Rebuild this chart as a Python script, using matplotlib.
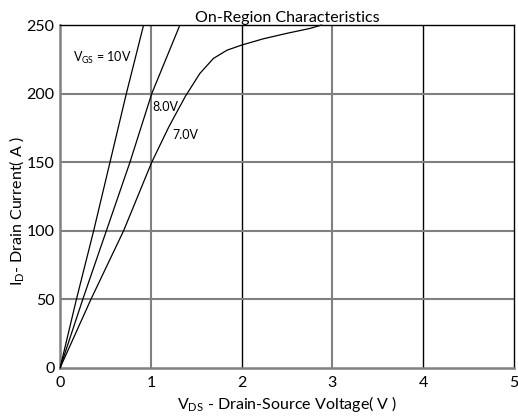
import matplotlib
matplotlib.use("Agg")
import matplotlib.pyplot as plt

plt.rcParams['font.family'] = ['Lato', 'DejaVu Sans']
plt.rcParams['mathtext.fontset'] = 'custom'
plt.rcParams['mathtext.rm'] = 'Lato'
plt.rcParams['mathtext.it'] = 'Lato'

# Data
v10 = [0, 0.18, 0.37, 0.55, 0.73, 0.92]
i10 = [0, 50, 100, 150, 200, 250]
v8 = [0, 0.25, 0.51, 0.77, 1.01, 1.32]
i8 = [0, 50, 100, 150, 200, 250]
v7 = [0, 0.34, 0.70, 1.01, 1.2, 1.38, 1.54, 1.69, 1.84, 2.0, 2.24, 2.5, 2.75, 2.88]
i7 = [0, 50, 100, 150, 176, 198, 214.7, 225.7, 231.7, 235.4, 240, 244, 247.5, 250]
xticks = [0, 1, 2, 3, 4, 5]
yticks = [0, 50, 100, 150, 200, 250]

fig = plt.figure(figsize=(5.18, 4.18), dpi=100)
ax = fig.add_axes([0.116, 0.120, 0.876, 0.820])
ax.set_xlim(0, 5)
ax.set_ylim(0, 250)

gray = '#808080'
for x in [1, 3]:
    ax.axvline(x, color=gray, lw=1.5, zorder=1)
for x in [2, 4]:
    ax.axvline(x, color='black', lw=1.0, zorder=1)
for y in [50, 100, 150, 200]:
    ax.axhline(y, color=gray, lw=1.5, zorder=1)

for s in ['left', 'bottom']:
    ax.spines[s].set_color(gray)
    ax.spines[s].set_linewidth(1.8)
for s in ['top', 'right']:
    ax.spines[s].set_color('black')
    ax.spines[s].set_linewidth(1.0)

ax.plot(v10, i10, color='black', lw=0.9, zorder=3)
ax.plot(v8, i8, color='black', lw=0.9, zorder=3)
ax.plot(v7, i7, color='black', lw=0.9, zorder=3, clip_on=False)

ax.set_xticks(xticks)
ax.set_yticks(yticks)
ax.tick_params(length=0, labelsize=11.5)
ax.tick_params(axis='x', pad=6)
ax.tick_params(axis='y', pad=4)

ax.text(0.14, 226, r'$\mathregular{V_{GS}}$ = 10V', fontsize=9, va='center')
ax.text(1.02, 190, '8.0V', fontsize=9, va='center')
ax.text(1.24, 170, '7.0V', fontsize=9, va='center')

ax.set_title('On-Region Characteristics', fontsize=11.5, pad=2)
ax.set_xlabel(r'$\mathregular{V_{DS}}$ - Drain-Source Voltage( V )', fontsize=11.5)
ax.xaxis.set_label_coords(0.5, -0.075)
ax.set_ylabel(r'$\mathregular{I_{D}}$- Drain Current( A )', fontsize=11.5)
ax.yaxis.set_label_coords(-0.075, 0.457)

fig.savefig('out.png', dpi=100)
